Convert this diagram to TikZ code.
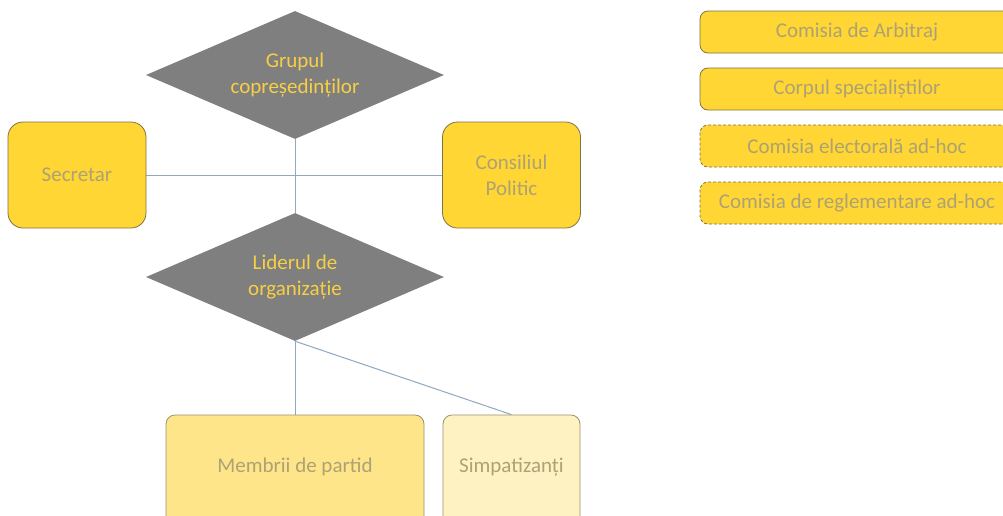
\documentclass[tikz,border=0pt]{standalone}
\usepackage{fontspec}
\setmainfont{Carlito}
\usetikzlibrary{shapes.geometric,backgrounds}
\definecolor{ybox}{HTML}{FFD633}
\definecolor{ylight}{HTML}{FFE58A}
\definecolor{ypale}{HTML}{FFF2C2}
\definecolor{bordc}{HTML}{7F7448}
\definecolor{txtc}{HTML}{ADA274}
\definecolor{dia}{HTML}{7F7F7F}
\definecolor{diatxt}{HTML}{F7CF45}
\definecolor{linec}{HTML}{8EA9C1}
\tikzset{
  dianode/.style={shape=diamond, fill=dia, draw=none, aspect=2.33, minimum width=298pt, minimum height=128pt, inner sep=0pt, text=diatxt, align=center, font=\fontsize{21}{26}\selectfont},
  sidebox/.style={rectangle, rounded corners=15pt, fill=ybox, draw=bordc, line width=0.8pt, minimum width=138pt, minimum height=106pt, text=txtc, align=center, font=\fontsize{21}{26}\selectfont},
  lowbox/.style={rectangle, rounded corners=9pt, draw=bordc!80, line width=0.8pt, minimum height=116pt, text=txtc, font=\fontsize{21}{26}\selectfont},
  lowtxt/.style={text=txtc, font=\fontsize{21}{26}\selectfont},
  listbox/.style={rectangle, rounded corners=8pt, fill=ybox, draw=bordc, line width=0.8pt, minimum width=314pt, minimum height=42pt, text=txtc, font=\fontsize{21}{26}\selectfont},
  dashbox/.style={listbox, dash pattern=on 3pt off 2pt},
  conn/.style={draw=linec, line width=1pt}
}
\begin{document}
\begin{tikzpicture}[x=1pt,y=-1pt]
\useasboundingbox (0,0) rectangle (1003,515);
\clip (0,0) rectangle (1003,515);
% nodes
\node[dianode] (grup) at (295,75) {Grupul\\copreședinților};
\node[dianode] (lider) at (295,277) {Liderul de\\organizație};
\node[sidebox] (secr) at (77,175) {Secretar};
\node[sidebox] (cons) at (511.5,175) {Consiliul\\Politic};
\node[lowbox, fill=ylight, minimum width=258pt] (memb) at (295,473) {};
\node[lowtxt] (membt) at (295,467) {Membrii de partid};
\node[lowbox, fill=ypale, minimum width=137pt] (simp) at (511.5,473) {};
\node[lowtxt] (simpt) at (511.5,467) {Simpatizanți};
\node[listbox] (arb) at (857,32) {Comisia de Arbitraj};
\node[listbox] (spec) at (857,89) {Corpul specialiștilor};
\node[dashbox] (elec) at (857,146) {Comisia electorală ad-hoc};
\node[dashbox] (regl) at (857,203) {Comisia de reglementare ad-hoc};
% connectors
\begin{scope}[on background layer]
\fill[white] (0,0) rectangle (1003,515);
\draw[conn] (secr.east) -- (cons.west);
\draw[conn] (grup.south) -- (lider.north);
\draw[conn] (lider.south) -- (memb.north);
\draw[conn] (lider.south) -- (simp.north);
\end{scope}
\end{tikzpicture}
\end{document}
